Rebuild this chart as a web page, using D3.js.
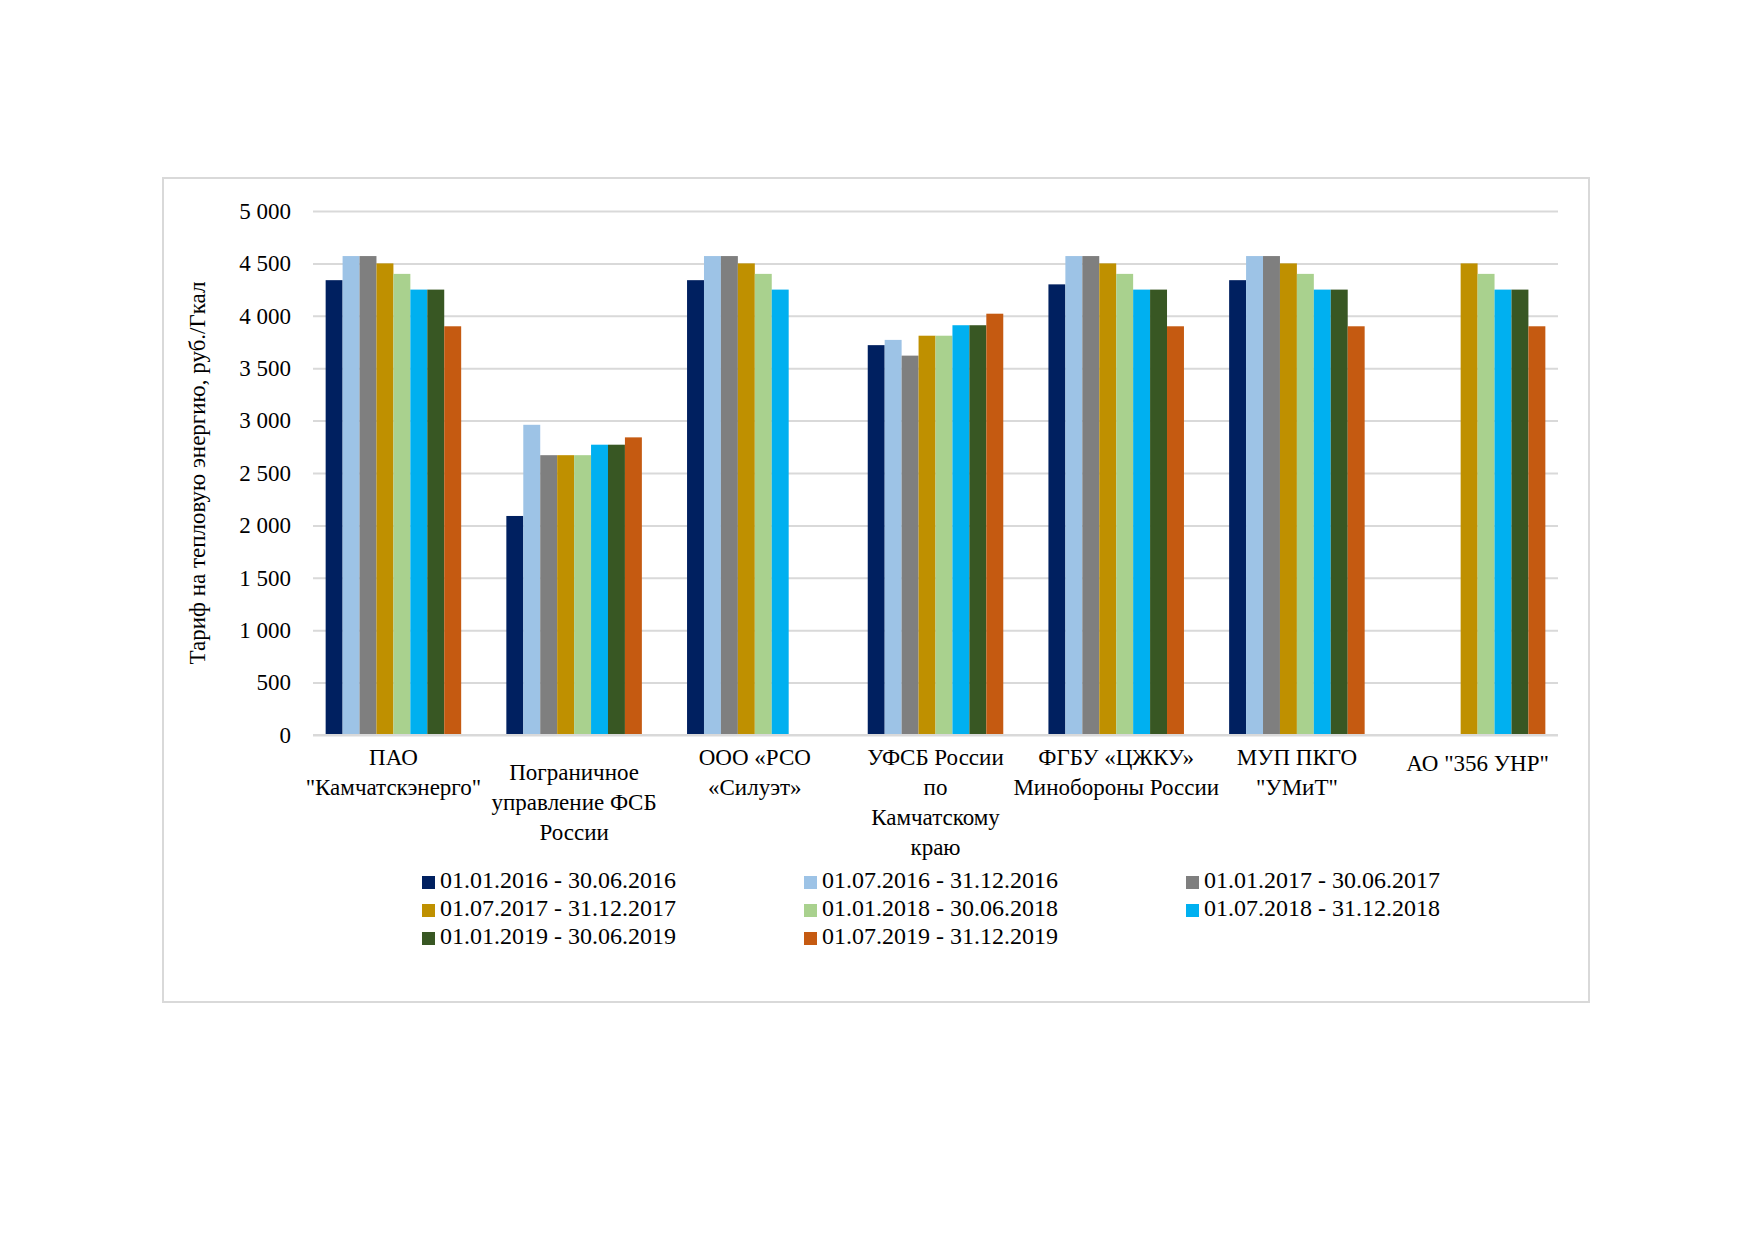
<!DOCTYPE html>
<html><head><meta charset="utf-8">
<script src="https://cdn.jsdelivr.net/npm/d3@7"></script>
<style>body{margin:0;background:#fff}text{font-family:"Liberation Serif","Times New Roman",serif;fill:#000}</style>
</head><body><div></div>
<script>
const categories = [
  ["ПАО", "\"Камчатскэнерго\""],
  ["Пограничное", "управление  ФСБ", "России"],
  ["ООО «РСО", "«Силуэт»"],
  ["УФСБ России", "по", "Камчатскому", "краю"],
  ["ФГБУ «ЦЖКУ»", "Минобороны России"],
  ["МУП ПКГО", "\"УМиТ\""],
  ["АО \"356 УНР\""]
];
const catOffset = [0, 0.5, 0, 0, 0, 0, 0.2];
const seriesNames = ["01.01.2016 - 30.06.2016", "01.07.2016 - 31.12.2016", "01.01.2017 - 30.06.2017",
  "01.07.2017 - 31.12.2017", "01.01.2018 - 30.06.2018", "01.07.2018 - 31.12.2018",
  "01.01.2019 - 30.06.2019", "01.07.2019 - 31.12.2019"];
const colors = ["#002060", "#9dc3e6", "#7f7f7f", "#bf9000", "#a9d18e", "#00b0f0", "#385723", "#c55a11"];
// values[category][series]
const values = [
  [4340, 4570, 4570, 4500, 4400, 4250, 4250, 3900],
  [2090, 2960, 2670, 2670, 2670, 2770, 2770, 2840],
  [4340, 4570, 4570, 4500, 4400, 4250, null, null],
  [3720, 3770, 3620, 3810, 3810, 3910, 3910, 4020],
  [4300, 4570, 4570, 4500, 4400, 4250, 4250, 3900],
  [4340, 4570, 4570, 4500, 4400, 4250, 4250, 3900],
  [null, null, null, 4500, 4400, 4250, 4250, 3900]
];
const yTicks = [0, 500, 1000, 1500, 2000, 2500, 3000, 3500, 4000, 4500, 5000];

const W = 1752, H = 1239;
const pL = 313, pR = 1558, pT = 211, pB = 735;
const svg = d3.select("div").append("svg").attr("width", W).attr("height", H);
svg.append("rect").attr("x", 163).attr("y", 178).attr("width", 1426).attr("height", 824)
  .attr("fill", "#fff").attr("stroke", "#d9d9d9").attr("stroke-width", 2);

const x0 = d3.scaleBand().domain(d3.range(categories.length)).range([pL, pR]).paddingInner(0.25).paddingOuter(0.07);
const x1 = d3.scaleBand().domain(d3.range(seriesNames.length)).range([0, x0.bandwidth()]);
const y = d3.scaleLinear().domain([0, 5000]).range([pB, pT]);
const fmt = d => d3.format(",")(d).replace(",", " ");

const yAxis = svg.append("g").attr("transform", `translate(${pL},0)`)
  .call(d3.axisLeft(y).tickValues(yTicks).tickSize(-(pR - pL)).tickFormat(fmt));
yAxis.select(".domain").remove();
yAxis.selectAll(".tick line").attr("stroke", "#d9d9d9").attr("stroke-width", 2);
yAxis.selectAll(".tick text").attr("x", -22).style("font-size", "23px");

svg.append("g").selectAll("g").data(values).join("g")
  .attr("transform", (d, i) => `translate(${x0(i)},0)`)
  .selectAll("rect").data(d => d.map((v, j) => ({ v, j })).filter(e => e.v != null)).join("rect")
  .attr("x", e => x1(e.j)).attr("width", x1.bandwidth())
  .attr("y", e => y(e.v)).attr("height", e => y(0) - y(e.v))
  .attr("fill", e => colors[e.j]);

svg.append("line").attr("x1", pL).attr("x2", pR).attr("y1", pB).attr("y2", pB)
  .attr("stroke", "#d9d9d9").attr("stroke-width", 2);

categories.forEach((lines, i) => {
  const cx = x0(i) + x0.bandwidth() / 2;
  const t = svg.append("text").attr("text-anchor", "middle").style("font-size", "23px")
    .attr("x", cx).attr("y", pB + 30 + catOffset[i] * 30);
  lines.forEach((l, k) => t.append("tspan").attr("x", cx).attr("dy", k ? 30 : 0).text(l));
});

svg.append("text").attr("transform", `translate(205,${(pT + pB) / 2}) rotate(-90)`)
  .attr("text-anchor", "middle").style("font-size", "23px")
  .text("Тариф на тепловую энергию, руб./Гкал");

const lg = svg.append("g").selectAll("g").data(seriesNames).join("g")
  .attr("transform", (d, i) => `translate(${422 + (i % 3) * 382},${888 + Math.floor(i / 3) * 28})`);
lg.append("rect").attr("x", 0).attr("y", -12).attr("width", 13).attr("height", 13).attr("fill", (d, i) => colors[i]);
lg.append("text").attr("x", 18).attr("y", 0).style("font-size", "24px").text(d => d);
</script></body></html>
